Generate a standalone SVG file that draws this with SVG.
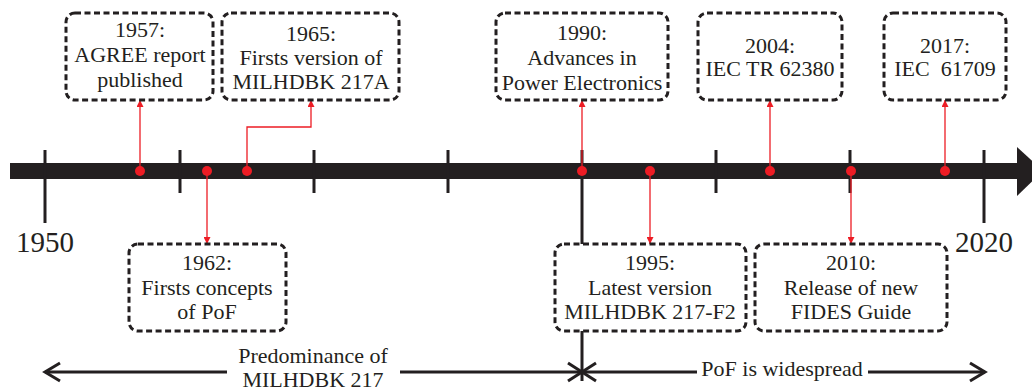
<svg xmlns="http://www.w3.org/2000/svg" width="1032" height="390" viewBox="0 0 1032 390">
<defs>
<style>
.box{fill:#fff;stroke:#231f20;stroke-width:3;stroke-dasharray:6 3.5}
.t{font-family:'Liberation Serif','Times New Roman',serif;font-size:22px;fill:#231f20;text-anchor:middle}
.yr{font-family:'Liberation Serif','Times New Roman',serif;font-size:29px;fill:#231f20;text-anchor:middle}
.tick{stroke:#231f20;stroke-width:3;fill:none}
.red{stroke:#ed1c24;stroke-width:1.3;fill:none}
.dot{fill:#ed1c24}
.blk{stroke:#231f20;stroke-width:3;fill:none}
</style>
<marker id="ra" viewBox="0 0 10 10" refX="10" refY="5" markerWidth="8" markerHeight="7" markerUnits="userSpaceOnUse" orient="auto">
<path d="M0,0 L10,5 L0,10 z" fill="#ed1c24"/>
</marker>
</defs>
<rect width="1032" height="390" fill="#fff"/>
<g id="timeline">
<rect x="10" y="163" width="1010" height="16" fill="#231f20"/>
<polygon points="1017,147 1043,171 1017,196" fill="#231f20"/>
<line class="tick" x1="45" y1="150" x2="45" y2="223"/>
<line class="tick" x1="180" y1="150" x2="180" y2="193"/>
<line class="tick" x1="314" y1="150" x2="314" y2="193"/>
<line class="tick" x1="448" y1="150" x2="448" y2="193"/>
<line class="tick" x1="582" y1="150" x2="582" y2="244"/>
<line class="tick" x1="582" y1="331" x2="582" y2="381"/>
<line class="tick" x1="716" y1="150" x2="716" y2="193"/>
<line class="tick" x1="850" y1="150" x2="850" y2="193"/>
<line class="tick" x1="984" y1="150" x2="984" y2="223"/>
<text class="yr" x="45" y="252">1950</text>
<text class="yr" x="984" y="252">2020</text>
</g>
<g id="connectors">
<path class="red" d="M140,171 V100" marker-end="url(#ra)"/>
<path class="red" d="M247,171 V127 H311 V100" marker-end="url(#ra)"/>
<path class="red" d="M207,171 V244" marker-end="url(#ra)"/>
<path class="red" d="M582,171 V100" marker-end="url(#ra)"/>
<path class="red" d="M650,171 V244" marker-end="url(#ra)"/>
<path class="red" d="M770,171 V100" marker-end="url(#ra)"/>
<path class="red" d="M851,171 V244" marker-end="url(#ra)"/>
<path class="red" d="M945,171 V100" marker-end="url(#ra)"/>
<circle class="dot" cx="140" cy="171" r="5"/>
<circle class="dot" cx="207" cy="171" r="5"/>
<circle class="dot" cx="247" cy="171" r="5"/>
<circle class="dot" cx="582" cy="171" r="5"/>
<circle class="dot" cx="650" cy="171" r="5"/>
<circle class="dot" cx="770" cy="171" r="5"/>
<circle class="dot" cx="851" cy="171" r="5"/>
<circle class="dot" cx="945" cy="171" r="5"/>
<path class="blk" d="M45,372 H227 M400,372 H582"/>
<path class="blk" d="M60,363 L45,372 L60,381"/>
<path class="blk" d="M568,363 L582,372 L568,381"/>
<path class="blk" d="M582,372 H697 M868,372 H985"/>
<path class="blk" d="M596,363 L582,372 L596,381"/>
<path class="blk" d="M970,363 L985,372 L970,381"/>
</g>
<g id="n1957">
<rect class="box" x="66" y="13" width="147" height="87" rx="9"/>
<text class="t" x="140" y="37">1957:</text>
<text class="t" x="140" y="62">AGREE report</text>
<text class="t" x="140" y="87">published</text>
</g>
<g id="n1965">
<rect class="box" x="222" y="13" width="177" height="87" rx="9"/>
<text class="t" x="311" y="41">1965:</text>
<text class="t" x="311" y="65">Firsts version of</text>
<text class="t" x="311" y="89">MILHDBK 217A</text>
</g>
<g id="n1990">
<rect class="box" x="496" y="13" width="172" height="87" rx="9"/>
<text class="t" x="582" y="40">1990:</text>
<text class="t" x="582" y="65">Advances in</text>
<text class="t" x="582" y="90">Power Electronics</text>
</g>
<g id="n2004">
<rect class="box" x="698" y="13" width="144" height="87" rx="9"/>
<text class="t" x="770" y="53">2004:</text>
<text class="t" x="770" y="76">IEC TR 62380</text>
</g>
<g id="n2017">
<rect class="box" x="884" y="13" width="122" height="87" rx="9"/>
<text class="t" x="945" y="53">2017:</text>
<text class="t" x="945" y="76" xml:space="preserve">IEC  61709</text>
</g>
<g id="n1962">
<rect class="box" x="129" y="244" width="157" height="87" rx="9"/>
<text class="t" x="207" y="270">1962:</text>
<text class="t" x="207" y="295">Firsts concepts</text>
<text class="t" x="207" y="319">of PoF</text>
</g>
<g id="n1995">
<rect class="box" x="555" y="244" width="191" height="87" rx="9"/>
<text class="t" x="650" y="270">1995:</text>
<text class="t" x="650" y="295">Latest version</text>
<text class="t" x="650" y="319">MILHDBK 217-F2</text>
</g>
<g id="n2010">
<rect class="box" x="755" y="244" width="192" height="87" rx="9"/>
<text class="t" x="851" y="270">2010:</text>
<text class="t" x="851" y="295">Release of new</text>
<text class="t" x="851" y="319">FIDES Guide</text>
</g>
<g id="labels">
<text class="t" x="313" y="363">Predominance of</text>
<text class="t" x="313" y="387">MILHDBK 217</text>
<text class="t" x="782" y="376">PoF is widespread</text>
</g>
</svg>
